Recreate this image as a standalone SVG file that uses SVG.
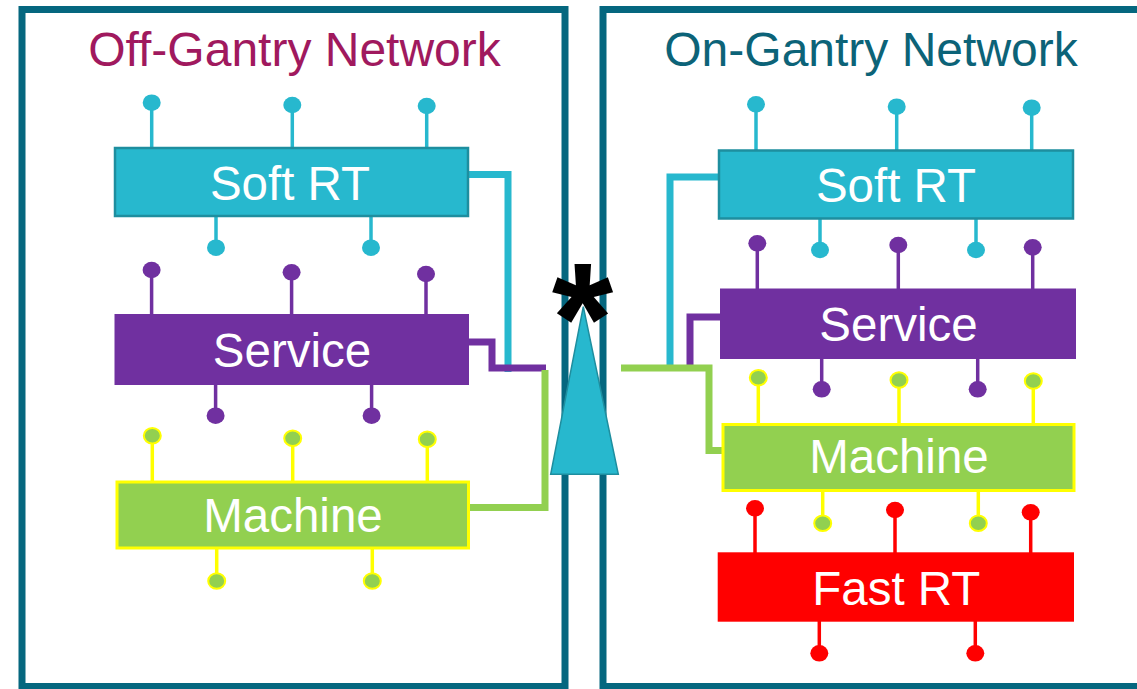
<svg xmlns="http://www.w3.org/2000/svg" width="1137" height="689" viewBox="0 0 1137 689">
<style>
.frame{fill:none;stroke:#05677F;stroke-width:7}
.title{font-family:"Liberation Sans",Arial,sans-serif;font-size:48px;text-anchor:middle}
.lbl{font-family:"Liberation Sans",Arial,sans-serif;font-size:47.5px;fill:#fff;text-anchor:middle}
.cy rect{fill:#27B8CE;stroke:#1E8E9F;stroke-width:2.5}
.cy line{stroke:#27B8CE;stroke-width:3.5}
.cy ellipse{fill:#27B8CE}
.pu rect{fill:#7030A0}
.pu line{stroke:#7030A0;stroke-width:3.5}
.pu ellipse{fill:#7030A0}
.gr rect{fill:#92D050;stroke:#FFFF00;stroke-width:3}
.gr line{stroke:#FFFF00;stroke-width:3.5}
.gr ellipse{fill:#92D050;stroke:#FFFF00;stroke-width:2}
.rd rect{fill:#FF0000}
.rd line{stroke:#FF0000;stroke-width:3.5}
.rd ellipse{fill:#FF0000}
.conn{fill:none;stroke-width:7;stroke-linejoin:miter}
</style>

<g id="frames">
<rect class="frame" x="22" y="9.5" width="543" height="677"/>
<rect class="frame" x="603" y="9.5" width="600" height="677"/>
</g>
<text class="title" x="294.5" y="65.5" fill="#A0195E">Off-Gantry Network</text>
<text class="title" x="871" y="65.5" fill="#0C6378">On-Gantry Network</text>

<g id="connectors">
<polyline class="conn" stroke="#27B8CE" points="468,174.5 508,174.5 508,372"/>
<polyline class="conn" stroke="#7030A0" points="468,342 492,342 492,368 546,368"/>
<polyline class="conn" stroke="#92D050" points="469,507.5 545,507.5 545,370"/>
<polyline class="conn" stroke="#27B8CE" points="718,177 670,177 670,368"/>
<polyline class="conn" stroke="#7030A0" points="720,317 690,317 690,371"/>
<polyline class="conn" stroke="#92D050" points="621,368 709,368 709,450.5 722,450.5"/>
</g>

<g id="left-softrt" class="cy">
<line x1="151.7" y1="102.7" x2="151.7" y2="148"/><ellipse cx="151.7" cy="102.7" rx="9" ry="8.3"/>
<line x1="292.3" y1="105" x2="292.3" y2="148"/><ellipse cx="292.3" cy="105" rx="9" ry="8.3"/>
<line x1="426.7" y1="106" x2="426.7" y2="148"/><ellipse cx="426.7" cy="106" rx="9" ry="8.3"/>
<line x1="216" y1="216" x2="216" y2="247.7"/><ellipse cx="216" cy="247.7" rx="9" ry="8.3"/>
<line x1="371" y1="216" x2="371" y2="247.7"/><ellipse cx="371" cy="247.7" rx="9" ry="8.3"/>
<rect x="115" y="148" width="353" height="68"/>
<text class="lbl" x="290" y="200">Soft RT</text>
</g>

<g id="left-service" class="pu">
<line x1="151.6" y1="270" x2="151.6" y2="314"/><ellipse cx="151.6" cy="270" rx="9" ry="8.3"/>
<line x1="291.6" y1="272.3" x2="291.6" y2="314"/><ellipse cx="291.6" cy="272.3" rx="9" ry="8.3"/>
<line x1="426" y1="274" x2="426" y2="314"/><ellipse cx="426" cy="274" rx="9" ry="8.3"/>
<line x1="215.6" y1="385" x2="215.6" y2="415.7"/><ellipse cx="215.6" cy="415.7" rx="9" ry="8.3"/>
<line x1="371.6" y1="385" x2="371.6" y2="415.7"/><ellipse cx="371.6" cy="415.7" rx="9" ry="8.3"/>
<rect x="114.5" y="314" width="354.5" height="71"/>
<text class="lbl" x="292" y="366.7">Service</text>
</g>

<g id="left-machine" class="gr">
<line x1="152.3" y1="435.7" x2="152.3" y2="481"/><ellipse cx="152.3" cy="435.7" rx="8.5" ry="7.8"/>
<line x1="292.7" y1="438.3" x2="292.7" y2="481"/><ellipse cx="292.7" cy="438.3" rx="8.5" ry="7.8"/>
<line x1="427.3" y1="439.3" x2="427.3" y2="481"/><ellipse cx="427.3" cy="439.3" rx="8.5" ry="7.8"/>
<line x1="216.7" y1="549" x2="216.7" y2="581"/><ellipse cx="216.7" cy="581" rx="8.5" ry="7.8"/>
<line x1="372.3" y1="549" x2="372.3" y2="581"/><ellipse cx="372.3" cy="581" rx="8.5" ry="7.8"/>
<rect x="117" y="482" width="351.5" height="66"/>
<text class="lbl" x="293" y="531.7">Machine</text>
</g>

<g id="right-softrt" class="cy">
<line x1="756" y1="104.3" x2="756" y2="150"/><ellipse cx="756" cy="104.3" rx="9" ry="8.3"/>
<line x1="896.7" y1="106.7" x2="896.7" y2="150"/><ellipse cx="896.7" cy="106.7" rx="9" ry="8.3"/>
<line x1="1031.7" y1="107.7" x2="1031.7" y2="150"/><ellipse cx="1031.7" cy="107.7" rx="9" ry="8.3"/>
<line x1="820" y1="219" x2="820" y2="250"/><ellipse cx="820" cy="250" rx="9" ry="8.3"/>
<line x1="976" y1="219" x2="976" y2="250"/><ellipse cx="976" cy="250" rx="9" ry="8.3"/>
<rect x="719" y="150.5" width="354" height="68"/>
<text class="lbl" x="896" y="201.7">Soft RT</text>
</g>

<g id="right-service" class="pu">
<line x1="757.3" y1="243.3" x2="757.3" y2="289"/><ellipse cx="757.3" cy="243.3" rx="9" ry="8.3"/>
<line x1="898.3" y1="245" x2="898.3" y2="289"/><ellipse cx="898.3" cy="245" rx="9" ry="8.3"/>
<line x1="1032.7" y1="247.3" x2="1032.7" y2="289"/><ellipse cx="1032.7" cy="247.3" rx="9" ry="8.3"/>
<line x1="821.7" y1="359" x2="821.7" y2="389.3"/><ellipse cx="821.7" cy="389.3" rx="9" ry="8.3"/>
<line x1="977.7" y1="359" x2="977.7" y2="389.3"/><ellipse cx="977.7" cy="389.3" rx="9" ry="8.3"/>
<rect x="720" y="288.5" width="356" height="70.5"/>
<text class="lbl" x="898.5" y="340.7">Service</text>
</g>

<g id="right-machine" class="gr">
<line x1="758.3" y1="377.7" x2="758.3" y2="424"/><ellipse cx="758.3" cy="377.7" rx="8.5" ry="7.8"/>
<line x1="899" y1="380" x2="899" y2="424"/><ellipse cx="899" cy="380" rx="8.5" ry="7.8"/>
<line x1="1033.3" y1="381" x2="1033.3" y2="424"/><ellipse cx="1033.3" cy="381" rx="8.5" ry="7.8"/>
<line x1="822.7" y1="491" x2="822.7" y2="523.3"/><ellipse cx="822.7" cy="523.3" rx="8.5" ry="7.8"/>
<line x1="978.3" y1="491" x2="978.3" y2="523.3"/><ellipse cx="978.3" cy="523.3" rx="8.5" ry="7.8"/>
<rect x="723" y="424.5" width="351" height="66"/>
<text class="lbl" x="899" y="473.3">Machine</text>
</g>

<g id="right-fastrt" class="rd">
<line x1="755" y1="508.3" x2="755" y2="553"/><ellipse cx="755" cy="508.3" rx="9" ry="8.3"/>
<line x1="895" y1="510" x2="895" y2="553"/><ellipse cx="895" cy="510" rx="9" ry="8.3"/>
<line x1="1030.7" y1="512.3" x2="1030.7" y2="553"/><ellipse cx="1030.7" cy="512.3" rx="9" ry="8.3"/>
<line x1="819.3" y1="621" x2="819.3" y2="653.3"/><ellipse cx="819.3" cy="653.3" rx="9" ry="8.3"/>
<line x1="975.3" y1="621" x2="975.3" y2="653.3"/><ellipse cx="975.3" cy="653.3" rx="9" ry="8.3"/>
<rect x="717.7" y="552.3" width="356.3" height="69.4"/>
<text class="lbl" x="896.3" y="605">Fast RT</text>
</g>

<g id="gantry-link">
<polygon points="583.3,306.7 618.3,474.3 550.7,474.3" fill="#27B8CE" stroke="#1E8E9F" stroke-width="1.5"/>
<text x="582.5" y="373" font-family="'Liberation Sans',Arial,sans-serif" font-weight="bold" font-size="158" text-anchor="middle" fill="#000">*</text>
</g>
</svg>
